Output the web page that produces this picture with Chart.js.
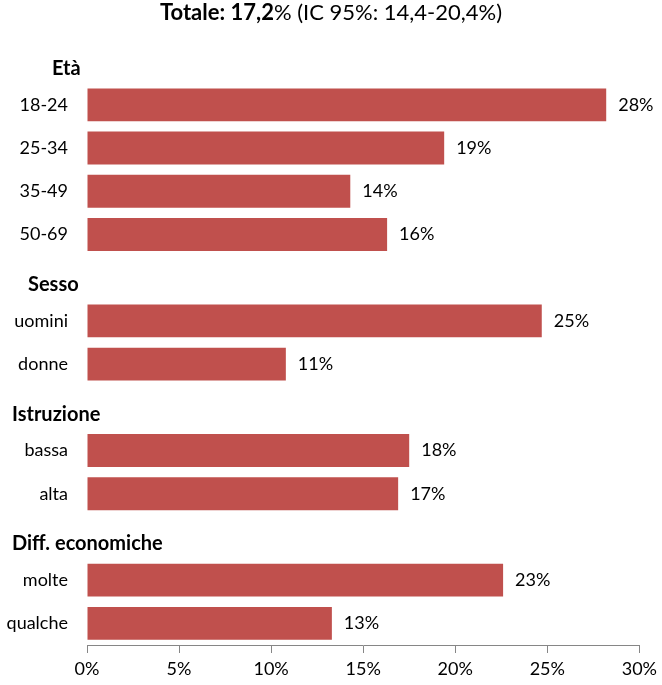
<!DOCTYPE html>
<html>
<head>
<meta charset="utf-8">
<script src="https://cdn.jsdelivr.net/npm/chart.js@4/dist/chart.umd.min.js"></script>
<style>
  html, body { margin: 0; padding: 0; background: #fff; }
  #wrap { width: 662px; height: 685px; position: relative; }
</style>
</head>
<body>
<div id="wrap"><canvas id="chart" width="662" height="685"></canvas></div>
<script>
// categories (group headers are rows with no bar)
const categories = ["Età", "18-24", "25-34", "35-49", "50-69",
  "Sesso", "uomini", "donne",
  "Istruzione", "bassa", "alta",
  "Diff. economiche", "molte", "qualche"];
const headers = ["Età", "Sesso", "Istruzione", "Diff. economiche"];
const values = [null, 28.2, 19.4, 14.3, 16.3,
  null, 24.7, 10.8,
  null, 17.5, 16.9,
  null, 22.6, 13.3];
const xTicks = [0, 5, 10, 15, 20, 25, 30];
const titleBold = "Totale: 17,2";
const titleRest = "% (IC 95%: 14,4-20,4%)";

const FONT = "Lato, 'Open Sans', sans-serif";
const headerX = { "Età": 52, "Sesso": 28, "Istruzione": 12, "Diff. economiche": 12 };

const overlay = {
  id: "overlay",
  afterDraw(chart) {
    const ctx = chart.ctx;
    const y = chart.scales.y;
    const meta = chart.getDatasetMeta(0);
    ctx.save();
    // title, mixed weights
    ctx.textBaseline = "middle";
    ctx.fillStyle = "#000";
    ctx.font = "bold 22px " + FONT;
    const w1 = ctx.measureText(titleBold).width;
    ctx.font = "22px " + FONT;
    const w2 = ctx.measureText(titleRest).width;
    let x0 = chart.width / 2 - (w1 + w2) / 2;
    ctx.textAlign = "left";
    ctx.font = "bold 22px " + FONT;
    ctx.fillText(titleBold, x0, 13);
    ctx.font = "22px " + FONT;
    ctx.fillText(titleRest, x0 + w1, 13);

    // group headers
    ctx.font = "bold 20px " + FONT;
    categories.forEach((c, i) => {
      if (headers.includes(c)) {
        ctx.fillText(c, headerX[c], y.getPixelForValue(i) + 7);
      }
    });

    // value labels
    ctx.font = "18px " + FONT;
    meta.data.forEach((bar, i) => {
      const v = values[i];
      if (v == null) return;
      ctx.fillText(Math.round(v) + "%", bar.x + 12, bar.y);
    });
    ctx.restore();
  }
};

new Chart(document.getElementById("chart"), {
  type: "bar",
  data: {
    labels: categories,
    datasets: [{
      data: values,
      backgroundColor: "#C0504D",
      borderWidth: 0,
      categoryPercentage: 1,
      barPercentage: 0.76
    }]
  },
  options: {
    indexAxis: "y",
    responsive: false,
    animation: false,
    layout: { padding: { top: 40, right: 21, left: 0, bottom: 0 } },
    plugins: { legend: { display: false }, tooltip: { enabled: false } },
    scales: {
      x: {
        min: 0, max: 30,
        afterBuildTicks: s => { s.ticks = xTicks.map(v => ({ value: v })); },
        afterFit: s => { s.height = 40; },
        grid: { drawOnChartArea: false, drawTicks: true, tickLength: 8, color: "#868686" },
        border: { color: "#868686" },
        ticks: {
          padding: 5,
          color: "#000",
          font: { family: FONT, size: 18 },
          callback: v => v + "%"
        }
      },
      y: {
        afterFit: s => { s.width = 87; },
        grid: { display: false, drawTicks: false },
        border: { display: false },
        ticks: {
          padding: 19,
          color: "#000",
          font: { family: FONT, size: 18 },
          callback: function (v, i) {
            const c = categories[i];
            return headers.includes(c) ? "" : c;
          }
        }
      }
    }
  },
  plugins: [overlay]
});
</script>
</body>
</html>
